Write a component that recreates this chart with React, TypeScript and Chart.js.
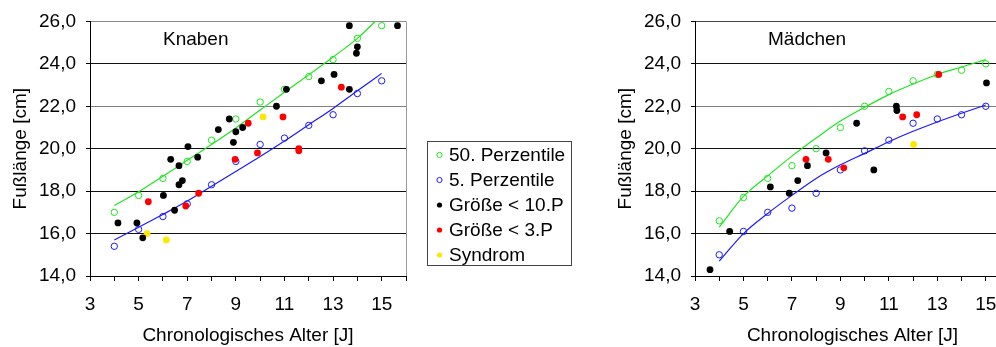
import React, { useEffect, useRef } from "react";
import { Chart, registerables } from "chart.js";

Chart.register(...registerables);

const FONT = "'Liberation Sans', Arial, Helvetica, sans-serif";

// ---------- data ----------
const percentileAges = [4, 5, 6, 7, 8, 9, 10, 11, 12, 13, 14, 15];

// Knaben
const knabenP50 = [17.0, 17.8, 18.6, 19.4, 20.4, 21.4, 22.2, 22.8, 23.4, 24.2, 25.2, 25.8];
const knabenP5 = [15.4, 16.2, 16.8, 17.4, 18.3, 19.4, 20.2, 20.5, 21.1, 21.6, 22.6, 23.2];
const knabenFit50 = [17.32, 17.97, 18.7, 19.45, 20.2, 20.98, 21.82, 22.66, 23.48, 24.32, 25.2, 26.3];
const knabenFit5 = [15.7, 16.3, 16.9, 17.53, 18.23, 18.93, 19.63, 20.36, 21.13, 21.9, 22.73, 23.55];
const knabenU10Ages = [4.15, 4.93, 5.17, 6.02, 6.32, 6.48, 6.66, 6.66, 6.8, 7.03, 7.43, 8.28, 8.73, 8.9, 9.0, 9.28, 10.67, 11.08, 12.52, 13.04, 13.67, 13.67, 14.0, 13.96, 15.65];
const knabenU10Values = [16.5, 16.5, 15.8, 17.8, 19.5, 17.1, 19.2, 18.3, 18.5, 20.1, 19.6, 20.9, 21.4, 20.3, 20.8, 21.0, 22.0, 22.8, 23.2, 23.5, 25.8, 22.8, 24.8, 24.5, 25.8];
const knabenU3Ages = [5.4, 6.94, 7.47, 8.97, 9.51, 9.89, 10.94, 11.59, 11.59, 13.34];
const knabenU3Values = [17.5, 17.3, 17.9, 19.5, 21.2, 19.8, 21.5, 20.0, 19.9, 22.9];
const knabenSynAges = [5.35, 6.14, 10.12];
const knabenSynValues = [16.0, 15.7, 21.5];

// Mädchen
const maedchenP50 = [16.6, 17.7, 18.6, 19.2, 20.0, 21.0, 22.0, 22.7, 23.2, 23.5, 23.7, 24.0];
const maedchenP5 = [15.0, 16.1, 17.0, 17.2, 17.9, 19.0, 19.9, 20.4, 21.2, 21.4, 21.6, 22.0];
const maedchenFit50 = [16.3, 17.75, 18.72, 19.65, 20.5, 21.3, 21.95, 22.55, 23.05, 23.5, 23.85, 24.2];
const maedchenFit5 = [14.7, 16.0, 16.95, 17.8, 18.6, 19.24, 19.78, 20.33, 20.82, 21.26, 21.67, 22.06];
const maedchenU10Ages = [3.62, 4.43, 6.11, 6.89, 7.24, 7.64, 8.41, 9.67, 10.38, 11.31, 11.33, 15.03];
const maedchenU10Values = [14.3, 16.1, 18.2, 17.9, 18.5, 19.2, 19.8, 21.2, 19.0, 22.0, 21.8, 23.1];
const maedchenU3Ages = [7.58, 8.5, 9.14, 11.57, 12.15, 13.06];
const maedchenU3Values = [19.5, 19.5, 19.1, 21.5, 21.6, 23.5];
const maedchenSynAges = [12.02];
const maedchenSynValues = [20.2];

const seriesLabels = ["50. Perzentile", "5. Perzentile", "Größe < 10.P", "Größe < 3.P", "Syndrom"];
const panelTitles = ["Knaben", "Mädchen"];
const xAxisTitle = "Chronologisches Alter [J]";
const yAxisTitle = "Fußlänge [cm]";
const xTickLabels = ["3", "5", "7", "9", "11", "13", "15"];

// ---------- styles ----------
const GREEN = "#1ee61e";
const BLUE = "#1a1aff";
const BLACK = "#000000";
const RED = "#ff0000";
const YELLOW = "#ffe800";

const zip = (xs: number[], ys: number[]) => xs.map((x, i) => ({ x, y: ys[i] }));

type Panel = {
  title: string;
  p50: number[];
  p5: number[];
  fit50: number[];
  fit5: number[];
  u10: [number[], number[]];
  u3: [number[], number[]];
  syn: [number[], number[]];
};

const panels: Panel[] = [
  {
    title: panelTitles[0],
    p50: knabenP50,
    p5: knabenP5,
    fit50: knabenFit50,
    fit5: knabenFit5,
    u10: [knabenU10Ages, knabenU10Values],
    u3: [knabenU3Ages, knabenU3Values],
    syn: [knabenSynAges, knabenSynValues],
  },
  {
    title: panelTitles[1],
    p50: maedchenP50,
    p5: maedchenP5,
    fit50: maedchenFit50,
    fit5: maedchenFit5,
    u10: [maedchenU10Ages, maedchenU10Values],
    u3: [maedchenU3Ages, maedchenU3Values],
    syn: [maedchenSynAges, maedchenSynValues],
  },
];

const decorPlugin = {
  id: "decor",
  afterDraw(chart: any, _args: any, opts: any) {
    const { ctx, chartArea } = chart;
    ctx.save();
    if (opts.rightBorder) {
      ctx.strokeStyle = "#9a9a9a";
      ctx.lineWidth = 1;
      ctx.beginPath();
      const x = Math.round(chartArea.right) + 0.5;
      ctx.moveTo(x, chartArea.top);
      ctx.lineTo(x, chartArea.bottom);
      ctx.stroke();
    }
    ctx.font = `19px ${FONT}`;
    ctx.fillStyle = "#000";
    ctx.textBaseline = "middle";
    ctx.textAlign = "left";
    ctx.fillText(opts.title, chartArea.left + 73, chartArea.top + 18);

    if (opts.legend) {
      const L = opts.legend;
      ctx.strokeStyle = "#444";
      ctx.lineWidth = 1;
      ctx.strokeRect(L.x + 0.5, L.y + 0.5, L.w, L.h);
      const items = chart.data.datasets.filter((d: any) => !d.isFit);
      items.forEach((d: any, i: number) => {
        const cy = L.y + L.first + i * L.rowH;
        ctx.beginPath();
        ctx.arc(L.x + 12.5, cy, 2.6, 0, Math.PI * 2);
        if (d.openMarker) {
          ctx.strokeStyle = d.borderColor;
          ctx.lineWidth = 1;
          ctx.stroke();
        } else {
          ctx.fillStyle = d.backgroundColor;
          ctx.fill();
        }
        ctx.fillStyle = "#000";
        ctx.font = `19px ${FONT}`;
        ctx.fillText(d.label, L.x + 22, cy + 1);
      });
    }
    ctx.restore();
  },
};

function buildConfig(p: Panel, canvasW: number, plotRight: number, withLegend: boolean): any {
  const open = (label: string, color: string, data: any[]) => ({
    label,
    data,
    openMarker: true,
    pointStyle: "circle",
    pointRadius: 3.2,
    pointBorderWidth: 1,
    borderColor: color,
    pointBorderColor: color,
    backgroundColor: "rgba(0,0,0,0)",
    pointBackgroundColor: "rgba(0,0,0,0)",
    showLine: false,
  });
  const filled = (label: string, color: string, data: any[]) => ({
    label,
    data,
    openMarker: false,
    pointStyle: "circle",
    pointRadius: 3.4,
    pointBorderWidth: 0,
    borderColor: color,
    backgroundColor: color,
    pointBackgroundColor: color,
    showLine: false,
  });
  const fit = (label: string, color: string, data: any[]) => ({
    label,
    data,
    isFit: true,
    showLine: true,
    pointRadius: 0,
    borderColor: color,
    borderWidth: 1.2,
    cubicInterpolationMode: "monotone",
    fill: false,
  });

  const datasets = [
    filled(seriesLabels[2], BLACK, zip(p.u10[0], p.u10[1])),
    filled(seriesLabels[3], RED, zip(p.u3[0], p.u3[1])),
    filled(seriesLabels[4], YELLOW, zip(p.syn[0], p.syn[1])),
    open(seriesLabels[0], GREEN, zip(percentileAges, p.p50)),
    open(seriesLabels[1], BLUE, zip(percentileAges, p.p5)),
    fit("fit50", GREEN, zip(percentileAges, p.fit50)),
    fit("fit5", BLUE, zip(percentileAges, p.fit5)),
  ];
  // legend order
  const legendOrder = [3, 4, 0, 1, 2];
  const ordered = [...legendOrder.map((i) => datasets[i]), datasets[5], datasets[6]];
  ordered.forEach((d: any, i: number) => (d.order = i < 5 ? legendOrder[i] : 10 + i));

  return {
    type: "scatter",
    data: { datasets: ordered },
    plugins: [decorPlugin],
    options: {
      animation: false,
      responsive: false,
      maintainAspectRatio: false,
      devicePixelRatio: 1,
      events: [],
      layout: { padding: { top: 18, right: canvasW - plotRight, bottom: 0, left: 0 } },
      plugins: {
        legend: { display: false },
        tooltip: { enabled: false },
        decor: {
          title: p.title,
          rightBorder: true,
          legend: withLegend ? { x: 427, y: 141, w: 144, h: 124, first: 14, rowH: 25 } : null,
        },
      },
      scales: {
        x: {
          type: "linear",
          min: 3,
          max: 16,
          afterFit: (s: any) => {
            s.height = 71;
          },
          ticks: {
            stepSize: 1,
            autoSkip: false,
            maxRotation: 0,
            padding: 12,
            color: "#000",
            font: { size: 19, family: FONT },
            callback: (v: any) => (xTickLabels.includes(String(v)) ? String(v) : ""),
          },
          grid: {
            drawOnChartArea: false,
            drawTicks: true,
            tickLength: 5,
            color: "#000",
            tickColor: "#000",
          },
          border: { display: true, color: "#000", width: 1 },
          title: {
            display: true,
            text: xAxisTitle,
            color: "#000",
            font: { size: 19, family: FONT },
            padding: { top: 0, bottom: 0 },
          },
        },
        y: {
          type: "linear",
          min: 14,
          max: 26,
          afterFit: (s: any) => {
            s.width = 90;
          },
          ticks: {
            stepSize: 2,
            padding: 10,
            color: "#000",
            font: { size: 19, family: FONT },
            callback: (v: any) => Number(v).toFixed(1).replace(".", ","),
          },
          grid: {
            drawOnChartArea: true,
            drawTicks: true,
            tickLength: 4,
            tickColor: "#000",
            color: (c: any) => {
              const v = c.tick && c.tick.value;
              if (v === 22) return "#808080";
              if (v === 26 && withLegend) return "#8a8a8a";
              if (v === 26) return "#444";
              return "#111";
            },
          },
          border: { display: true, color: "#000", width: 1 },
          title: {
            display: true,
            text: yAxisTitle,
            color: "#000",
            font: { size: 19, family: FONT },
            padding: { top: 9, bottom: 0 },
          },
        },
      },
    },
  };
}

export default function App() {
  const leftRef = useRef<HTMLCanvasElement | null>(null);
  const rightRef = useRef<HTMLCanvasElement | null>(null);

  useEffect(() => {
    const charts: Chart[] = [];
    if (leftRef.current) charts.push(new Chart(leftRef.current, buildConfig(panels[0], 590, 406, true)));
    if (rightRef.current) charts.push(new Chart(rightRef.current, buildConfig(panels[1], 420, 405, false)));
    return () => charts.forEach((c) => c.destroy());
  }, []);

  return (
    <div
      style={{
        position: "fixed",
        left: 0,
        top: 0,
        width: 996,
        height: 347,
        overflow: "hidden",
        background: "#fff",
      }}
    >
      <canvas ref={leftRef} width={590} height={347} style={{ position: "absolute", left: 0, top: 0 }} />
      <canvas ref={rightRef} width={420} height={347} style={{ position: "absolute", left: 605, top: 0 }} />
    </div>
  );
}
